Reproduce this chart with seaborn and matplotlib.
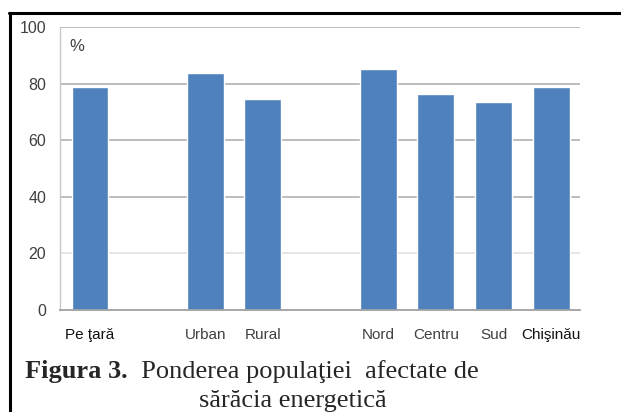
import matplotlib
matplotlib.use("Agg")
import matplotlib.pyplot as plt
import seaborn as sns
from matplotlib.lines import Line2D

# data
labels = ["Pe ţară", "Urban", "Rural", "Nord", "Centru", "Sud", "Chişinău"]
values = [78.7, 83.6, 74.6, 85.0, 76.3, 73.6, 78.7]
# empty slots between the groups
order = ["Pe ţară", "_g1", "Urban", "Rural", "_g2", "Nord", "Centru", "Sud", "Chişinău"]
y_ticks = [0, 20, 40, 60, 80, 100]

W, H = 621, 412
sns.set_style("white")
narrow = ["Liberation Sans", "DejaVu Sans"]

fig = plt.figure(figsize=(W / 100, H / 100), dpi=100)
ax = fig.add_axes([60 / W, 1 - 310 / H, 520 / W, 283 / H])

sns.barplot(x=labels, y=values, order=order, color="#4F81BD", saturation=1,
            width=0.64, ax=ax)

ax.set_xlim(-0.52, 8.5)
ax.set_ylim(0, 100)
ax.set_yticks(y_ticks)
ax.set_yticklabels([str(v) for v in y_ticks], family=narrow, fontsize=11.5, color="#404040")
ax.set_xticks(range(len(order)))
ax.set_xticklabels(["" if o.startswith("_") else o for o in order],
                   family=narrow, fontsize=11, color="#404040")
for t in ax.get_xticklabels():
    if t.get_text() in ("Pe ţară", "Chişinău"):
        t.set_color("#111111")
ax.tick_params(axis="x", length=0, pad=13)
ax.tick_params(axis="y", length=0, pad=10)
ax.set_xlabel("")
ax.set_ylabel("")

for v in y_ticks[1:]:
    ax.axhline(v, color="#E3E3E3" if v == 20 else "#B8B8B8", lw=1.3, zorder=0)
for s in ["top", "right"]:
    ax.spines[s].set_visible(False)
ax.spines["left"].set_color("#C8C8C8")
ax.spines["bottom"].set_color("#A0A0A0")
ax.spines["left"].set_linewidth(1.0)
ax.spines["bottom"].set_linewidth(1.3)

ax.text(0.018, 0.93, "%", transform=ax.transAxes, family=narrow,
        fontsize=12, color="#404040", va="center", ha="left")

# frame of the figure box
fig.add_artist(Line2D([10 / W, 10 / W], [0, 1 - 13 / H], color="black", lw=2.2,
                      transform=fig.transFigure))
fig.add_artist(Line2D([9 / W, 1], [1 - 13 / H, 1 - 13 / H], color="black", lw=2.2,
                      transform=fig.transFigure))

# caption
serif = ["Liberation Serif", "DejaVu Serif"]
t1 = fig.text(25 / W, 1 - 378 / H, "Figura 3.", family=serif, weight="bold",
              fontsize=19, va="baseline", ha="left")
fig.canvas.draw()
bb = t1.get_window_extent(fig.canvas.get_renderer())
fig.text(bb.x1 / W, 1 - 378 / H, "  Ponderea populaţiei  afectate de", family=serif,
         fontsize=19, va="baseline", ha="left")
fig.text(293 / W, 1 - 407 / H, "sărăcia energetică", family=serif,
         fontsize=19, va="baseline", ha="center")

fig.savefig("out.png", dpi=100)
